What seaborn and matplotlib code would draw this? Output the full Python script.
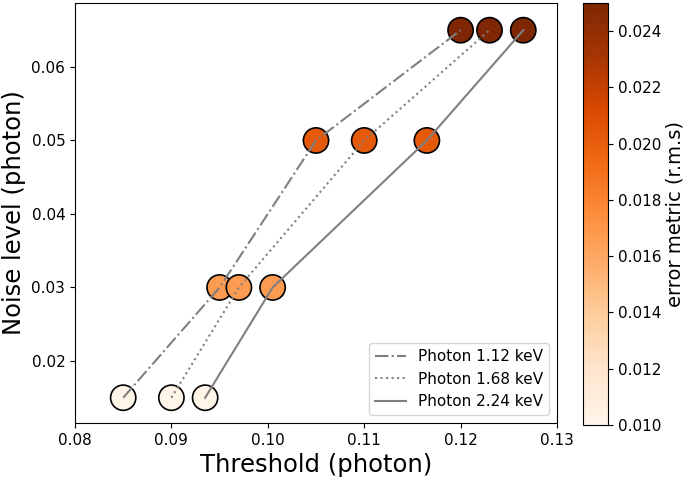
import matplotlib
matplotlib.use("Agg")
import matplotlib.pyplot as plt
import seaborn as sns
import numpy as np
import pandas as pd

noise = [0.015, 0.03, 0.05, 0.065]
thr_112 = [0.085, 0.095, 0.105, 0.120]
thr_168 = [0.090, 0.097, 0.110, 0.123]
thr_224 = [0.0935, 0.1005, 0.1165, 0.1265]
err = [0.0102, 0.0167, 0.0203, 0.0250]
labels = ["Photon 1.12 keV", "Photon 1.68 keV", "Photon 2.24 keV"]
styles = ["-.", ":", "-"]

rows = []
for lab, thr in zip(labels, [thr_112, thr_168, thr_224]):
    for t, n, e in zip(thr, noise, err):
        rows.append({"series": lab, "threshold": t, "noise": n, "err": e})
df = pd.DataFrame(rows)

fig = plt.figure(figsize=(6.85, 4.82), dpi=100)
ax = fig.add_axes([75/685, 1-423/482, (557-75)/685, (423-3)/482])
cax = fig.add_axes([583/685, 1-425/482, 25/685, (425-3)/482])

norm = matplotlib.colors.Normalize(vmin=0.010, vmax=0.025)
sns.scatterplot(data=df, x="threshold", y="noise", hue="err", palette="Oranges",
                hue_norm=norm, s=330, edgecolor="black", linewidth=1.2,
                legend=False, ax=ax, zorder=2)
for lab, ls in zip(labels, styles):
    sub = df[df["series"] == lab]
    sns.lineplot(data=sub, x="threshold", y="noise", color="gray", linestyle=ls,
                 linewidth=1.5, label=lab, ax=ax, zorder=3, sort=False)

ax.set_xlim(0.08, 0.13)
ax.set_ylim(0.01156, 0.0687)
ax.set_xticks([0.08, 0.09, 0.10, 0.11, 0.12, 0.13])
ax.set_xticklabels(["0.08", "0.09", "0.10", "0.11", "0.12", "0.13"])
ax.set_yticks([0.02, 0.03, 0.04, 0.05, 0.06])
ax.tick_params(labelsize=11)
ax.set_xlabel("Threshold (photon)", fontsize=17.5)
ax.set_ylabel("Noise level (photon)", fontsize=17.5)
ax.legend(loc="lower right", fontsize=11, handlelength=2.0)

sm = matplotlib.cm.ScalarMappable(norm=norm, cmap="Oranges")
cb = fig.colorbar(sm, cax=cax)
cb.set_ticks([0.010, 0.012, 0.014, 0.016, 0.018, 0.020, 0.022, 0.024])
cb.ax.tick_params(labelsize=11)
cb.set_label("error metric (r.m.s)", fontsize=14, labelpad=3)

fig.savefig("out.png", dpi=100)
